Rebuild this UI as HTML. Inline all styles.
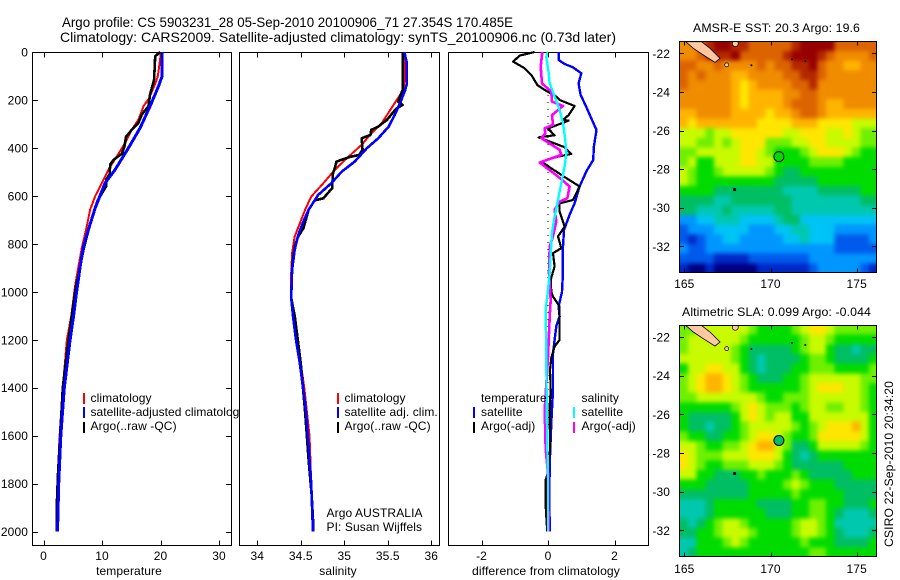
<!DOCTYPE html>
<html>
<head>
<meta charset="utf-8">
<title>Argo profile</title>
<style>
html,body{margin:0;padding:0;background:#fff;width:900px;height:580px;overflow:hidden}
svg{display:block}
text{font-family:"Liberation Sans",sans-serif;font-size:12px;fill:#000;letter-spacing:0.1px}
.frame{fill:#fff;stroke:#000;stroke-width:1;shape-rendering:crispEdges}
</style>
</head>
<body>
<svg id="chart" width="900" height="580" viewBox="0 0 900 580" xmlns="http://www.w3.org/2000/svg">
  <defs>
    <clipPath id="legend-clip"><rect x="0" y="380" width="239" height="60"/></clipPath>
    <clipPath id="map1-clip"><rect x="679.5" y="41.5" width="197" height="231"/></clipPath>
    <clipPath id="map2-clip"><rect x="679.5" y="325.5" width="197" height="231"/></clipPath>
    <filter id="map-soften" color-interpolation-filters="sRGB" x="-5%" y="-5%" width="110%" height="110%">
      <feGaussianBlur stdDeviation="2.2"/>
    </filter>
  </defs>

  <text x="62" y="27" font-size="14" style="font-size:14px;letter-spacing:0" textLength="451" lengthAdjust="spacingAndGlyphs">Argo profile: CS 5903231_28 05-Sep-2010 20100906_71 27.354S 170.485E</text>
  <text x="60" y="42" style="font-size:14px;letter-spacing:0" textLength="556" lengthAdjust="spacingAndGlyphs">Climatology: CARS2009. Satellite-adjusted climatology: synTS_20100906.nc (0.73d later)</text>

  <rect class="frame" x="32.5" y="52.5" width="199" height="493"/>
  <rect class="frame" x="239.5" y="52.5" width="200" height="493"/>
  <rect class="frame" x="448.5" y="52.5" width="200" height="493"/>

  <g id="temp-marks"></g>
  <g id="sal-marks"></g>
  <g id="diff-marks"></g>
  <g id="profile-axes"></g>

  <text x="129" y="575" text-anchor="middle">temperature</text>
  <text x="338" y="575" text-anchor="middle">salinity</text>
  <text x="546" y="575" text-anchor="middle" textLength="148" lengthAdjust="spacingAndGlyphs">difference from climatology</text>

  <g shape-rendering="crispEdges">
    <rect x="83" y="393" width="2" height="11" fill="#ff0000"/>
    <rect x="83" y="407" width="2" height="11" fill="#0000ff"/>
    <rect x="83" y="422" width="2" height="11" fill="#000"/>
    <text x="90.5" y="402">climatology</text>
    <g clip-path="url(#legend-clip)"><text x="90.5" y="416" textLength="155" lengthAdjust="spacing">satellite-adjusted climatology</text></g>
    <text x="90.5" y="430">Argo(..raw -QC)</text>
  </g>

  <g shape-rendering="crispEdges">
    <rect x="337" y="393" width="2" height="11" fill="#ff0000"/>
    <rect x="337" y="407" width="2" height="11" fill="#0000ff"/>
    <rect x="337" y="422" width="2" height="11" fill="#000"/>
    <text x="344.5" y="402">climatology</text>
    <text x="344.5" y="416">satellite adj. clim.</text>
    <text x="344.5" y="430">Argo(..raw -QC)</text>
    <text x="326.5" y="517">Argo AUSTRALIA</text>
    <text x="326.5" y="531">PI: Susan Wijffels</text>
  </g>

  <g shape-rendering="crispEdges">
    <text x="481" y="402">temperature</text>
    <rect x="473" y="407" width="2" height="11" fill="#0000ff"/>
    <text x="481" y="416">satellite</text>
    <rect x="473" y="422" width="2" height="11" fill="#000"/>
    <text x="481" y="430">Argo(-adj)</text>
    <text x="581.5" y="402">salinity</text>
    <rect x="573" y="407" width="2" height="11" fill="#00ffff"/>
    <text x="581.5" y="416">satellite</text>
    <rect x="573" y="422" width="2" height="11" fill="#ff00ff"/>
    <text x="581.5" y="430">Argo(-adj)</text>
  </g>

  <text x="693" y="32" textLength="167" lengthAdjust="spacingAndGlyphs">AMSR-E SST: 20.3 Argo: 19.6</text>
  <g id="sst-map" clip-path="url(#map1-clip)"></g>
  <rect x="679.5" y="41.5" width="197" height="231" fill="none" stroke="#000" shape-rendering="crispEdges"/>
  <g id="sst-axes"></g>

  <text x="682" y="316" textLength="189" lengthAdjust="spacingAndGlyphs">Altimetric SLA: 0.099 Argo: -0.044</text>
  <g id="sla-map" clip-path="url(#map2-clip)"></g>
  <rect x="679.5" y="325.5" width="197" height="231" fill="none" stroke="#000" shape-rendering="crispEdges"/>
  <g id="sla-axes"></g>

  <text transform="translate(893,547) rotate(-90)" textLength="166" lengthAdjust="spacingAndGlyphs">CSIRO 22-Sep-2010 20:34:20</text>
</svg>

<script>
/* ---------- tick labels ---------- */
const depthTicks = [0, 200, 400, 600, 800, 1000, 1200, 1400, 1600, 1800, 2000];
const tempTicks = [0, 10, 20, 30];
const salTicks = [34, 34.5, 35, 35.5, 36];
const diffTicks = [-2, 0, 2];
const lonTicks = [165, 170, 175];
const latTicks = [-22, -24, -26, -28, -30, -32];

/* ---------- temperature profile ---------- */
const tempClimDepth = [0, 32, 101, 122, 192, 226, 282, 324, 379, 435, 490, 560, 601, 657, 740, 817, 893, 976, 1100, 1200, 1400, 1600, 1800, 2000];
const tempClimValue = [20.06, 19.94, 19.54, 19.26, 18.06, 17.1, 16.24, 15.1, 13.96, 12.54, 11.11, 9.69, 8.83, 7.98, 7.29, 6.55, 5.98, 5.41, 4.75, 4.0, 3.3, 2.75, 2.4, 2.3];
const tempArgoDepth = [0, 18, 115, 178, 226, 261, 296, 324, 354, 393, 424, 449, 469, 511, 532, 560, 622, 671, 726, 824, 893, 976, 1000, 1200, 1400, 1600, 1750, 1900, 2000];
const tempArgoValue = [19.94, 19.09, 18.9, 18.2, 17.95, 16.8, 16.2, 15.1, 14.1, 13.85, 13.4, 12.0, 11.4, 11.3, 10.7, 10.7, 9.2, 8.55, 7.86, 6.84, 6.27, 5.58, 5.4, 4.27, 3.3, 2.85, 2.5, 2.25, 2.25];
const tempSatDepth = [0, 101, 143, 226, 317, 400, 490, 546, 650, 740, 810, 893, 976, 1000, 1100, 1200, 1400, 1600, 1800, 2000];
const tempSatValue = [20.28, 20.28, 19.66, 18.23, 16.52, 14.53, 12.25, 10.54, 8.83, 7.69, 6.84, 6.27, 5.81, 5.65, 5.15, 4.55, 3.55, 2.95, 2.6, 2.4];

/* ---------- salinity profile ---------- */
const salClimDepth = [0, 89, 158, 179, 235, 297, 339, 387, 436, 492, 547, 603, 658, 714, 769, 839, 922, 1026, 1100, 1200, 1300, 1400, 1500, 1600, 1700, 1800, 1900, 2000];
const salClimValue = [35.70, 35.70, 35.68, 35.64, 35.54, 35.43, 35.31, 35.2, 35.05, 34.89, 34.76, 34.62, 34.55, 34.49, 34.43, 34.40, 34.39, 34.385, 34.41, 34.45, 34.5, 34.54, 34.57, 34.6, 34.61, 34.62, 34.63, 34.64];
const salArgoDepth = [0, 158, 207, 221, 235, 283, 311, 325, 346, 360, 408, 429, 439, 457, 485, 506, 568, 610, 619, 658, 735, 769, 811, 894, 1026, 1100, 1200, 1300, 1500, 1700, 1850, 1950, 2000];
const salArgoValue = [35.67, 35.67, 35.62, 35.67, 35.6, 35.49, 35.39, 35.31, 35.3, 35.2, 35.21, 35.17, 35.05, 34.91, 34.89, 34.87, 34.86, 34.76, 34.66, 34.59, 34.53, 34.47, 34.43, 34.40, 34.39, 34.43, 34.465, 34.5, 34.55, 34.59, 34.625, 34.64, 34.64];
const salSatDepth = [0, 47, 131, 158, 214, 262, 311, 360, 401, 457, 499, 547, 596, 658, 707, 763, 825, 908, 1026, 1100, 1200, 1300, 1400, 1500, 1600, 1700, 1800, 1900, 2000];
const salSatValue = [35.69, 35.72, 35.72, 35.70, 35.64, 35.58, 35.51, 35.39, 35.26, 35.12, 34.97, 34.85, 34.70, 34.59, 34.53, 34.47, 34.43, 34.40, 34.39, 34.41, 34.445, 34.49, 34.525, 34.56, 34.58, 34.6, 34.62, 34.63, 34.64];

/* ---------- difference from climatology ---------- */
const diffTempSatDepth = [0, 33, 50, 64, 89, 131, 179, 228, 276, 325, 394, 450, 499, 561, 631, 679, 742, 839, 950, 1000, 1061, 1103, 1144, 1256, 1408, 1547, 1686, 1825, 2000];
const diffTempSatValue = [0.32, 0.32, 0.5, 0.75, 1, 0.92, 0.98, 1.15, 1.3, 1.46, 1.38, 1.36, 1.15, 0.95, 0.8, 0.65, 0.48, 0.44, 0.44, 0.42, 0.32, 0.35, 0.25, 0.15, 0.15, 0.1, 0.06, 0.04, 0.05];
const diffTempArgoDepth = [0, 15, 40, 68, 96, 138, 158, 186, 200, 225, 263, 283, 286, 319, 347, 356, 397, 425, 436, 457, 485, 517, 526, 561, 617, 631, 665, 728, 769, 818, 839, 894, 950, 1000, 1020, 1061, 1158, 1200, 1228, 1276, 1325, 1408, 1478, 1547, 1644, 1755, 1783, 1894, 1964, 2000];
const diffTempArgoValue = [-0.4, -0.85, -1.05, -0.7, -0.5, -0.32, -0.1, 0.25, 0.35, 0.8, 0.62, 0.45, 0.62, 0, 0.2, -0.28, 0.5, 0.7, 0.3, -0.2, 0.1, 0.45, 0.55, 0.95, 0.75, 0.35, 0.35, 0.5, 0.3, 0.4, 0.15, 0.2, 0.08, 0.1, 0.15, 0.35, 0.35, 0.35, 0.2, 0.1, 0.06, 0.08, 0.05, 0.05, 0.07, 0, -0.07, -0.07, -0.04, -0.02];
const diffSalSatDepth = [0, 19, 89, 131, 186, 242, 297, 367, 422, 478, 547, 617, 700, 756, 839, 922, 1020, 1075, 1270, 1478, 1644, 1742, 2000];
const diffSalSatValue = [0, -0.05, 0.02, 0.05, 0.2, 0.35, 0.45, 0.52, 0.55, 0.5, 0.4, 0.3, 0.18, 0.12, 0.08, 0.05, -0.02, -0.07, -0.05, -0.04, -0.02, 0, 0];
const diffSalArgoDepth = [0, 61, 131, 165, 207, 225, 263, 304, 318, 339, 360, 408, 429, 461, 519, 561, 610, 624, 658, 707, 769, 811, 922, 1033, 1103, 1270, 1492, 1658, 1755, 2000];
const diffSalArgoValue = [-0.17, -0.22, -0.18, 0.1, 0.12, 0.45, 0.12, 0.15, -0.1, -0.08, -0.2, 0.35, 0.4, -0.25, 0.3, 0.65, 0.58, 0.35, 0.2, 0.25, 0.15, 0.05, 0.03, 0.08, 0.05, 0, -0.1, -0.07, 0, 0.02];

/* ---------- maps: colour-class values, north to south, west to east ---------- */
const mapRamp = ['#000082', '#0028c8', '#005aeb', '#0096ff', '#00c3f5', '#00c8af', '#00be64', '#00dc00', '#6ef000', '#c8fa00', '#ffe600', '#ffb400', '#f08c00', '#dc6400', '#b42800', '#960000'];
const sstRows = [
 [12,12,13,14,15,15,14,14,13,13,13,13,13,14,15,15,15,15,13,13,13,13,13],
 [12,12,13,14,14,14,15,13,13,13,13,13,14,15,15,15,14,13,12,12,12,12,13],
 [13,13,12,12,13,12,12,12,12,13,12,13,13,14,14,15,13,12,12,11,11,12,12],
 [13,12,13,12,12,12,11,11,12,12,12,12,13,13,14,14,13,12,12,12,12,12,12],
 [13,12,12,12,12,12,11,10,11,12,12,12,12,13,13,14,12,12,12,12,12,12,12],
 [12,12,12,12,12,12,11,10,11,11,11,11,12,12,13,13,12,12,12,12,12,12,12],
 [12,12,12,12,12,12,11,10,11,11,11,11,12,13,13,13,12,11,11,12,12,12,12],
 [11,11,12,12,12,12,11,11,11,11,10,11,11,12,13,13,12,11,11,11,11,11,11],
 [11,10,11,11,11,11,11,11,11,10,10,10,10,11,11,11,10,10,10,10,9,9,9],
 [9,9,9,8,9,9,10,10,10,10,10,10,9,9,10,10,10,9,9,10,9,8,8],
 [9,9,8,8,9,8,9,10,10,10,8,8,8,9,9,10,10,9,9,9,9,8,8],
 [8,8,9,9,9,9,9,10,10,9,8,7,7,7,8,9,10,10,10,9,8,7,7],
 [8,9,7,7,9,9,9,10,10,9,9,7,7,7,7,8,8,8,8,7,7,7,7],
 [9,8,7,7,8,9,9,9,9,9,8,7,6,6,7,7,7,7,7,7,7,7,7],
 [9,8,7,7,7,7,7,7,7,7,7,6,6,6,6,6,7,7,7,7,7,7,7],
 [7,7,7,7,6,6,6,6,6,6,6,6,5,5,5,5,6,6,6,6,6,7,7],
 [6,6,6,6,5,5,6,6,6,6,6,6,6,5,5,5,5,5,5,5,5,6,6],
 [6,6,5,5,5,6,5,5,5,5,5,6,6,5,5,5,5,5,5,5,5,5,5],
 [3,3,4,4,5,5,5,4,4,4,4,5,6,6,4,4,4,4,4,4,4,4,4],
 [2,3,3,3,4,4,4,4,3,3,3,4,4,5,5,4,4,4,3,3,3,3,3],
 [2,1,2,3,3,4,4,3,3,3,3,3,4,4,5,4,4,4,2,2,2,2,3],
 [3,2,2,3,3,3,3,3,3,3,3,3,3,3,3,3,3,3,2,2,2,2,2],
 [2,2,2,2,1,1,1,1,2,2,2,2,2,2,2,3,3,3,3,3,3,3,3],
 [1,0,0,1,0,0,0,0,0,1,1,1,1,1,1,2,3,3,3,3,3,2,1]
];
const slaRows = [
 [8,8,9,9,9,9,9,9,8,7,7,7,7,8,9,10,10,9,8,8,8,8,8],
 [8,9,9,9,9,9,9,8,7,7,7,7,7,7,8,9,9,8,7,7,7,7,7],
 [8,9,9,9,9,9,8,7,6,6,6,6,6,7,8,9,9,7,6,6,5,6,6],
 [9,9,9,9,9,9,8,7,6,5,6,6,6,6,7,8,8,7,6,6,6,6,7],
 [7,9,9,10,10,9,9,7,6,5,6,6,6,7,7,8,8,8,7,7,7,7,8],
 [8,9,10,11,11,10,9,8,7,6,6,6,7,7,8,9,9,9,9,9,9,8,8],
 [8,9,10,11,11,10,9,8,7,7,7,7,7,7,8,9,10,10,10,9,9,8,7],
 [8,8,9,9,9,9,9,9,9,8,7,7,8,8,8,9,9,9,9,9,9,8,7],
 [7,7,7,7,7,7,8,9,10,9,8,8,8,7,8,9,9,8,8,9,9,8,7],
 [7,6,6,6,6,6,7,9,10,9,8,9,9,7,7,9,9,9,9,9,9,9,7],
 [7,6,6,5,6,6,7,8,9,9,9,9,9,8,7,8,9,10,10,10,11,9,7],
 [8,7,7,6,6,7,7,8,9,10,10,9,8,7,7,8,10,10,10,10,10,9,7],
 [9,9,8,7,7,8,8,9,10,11,11,9,8,6,6,7,9,9,9,9,9,8,7],
 [10,9,8,8,8,9,9,9,10,10,10,9,7,6,5,6,7,7,7,7,7,7,7],
 [10,9,8,7,7,8,8,8,9,9,9,8,7,6,6,6,6,6,6,7,7,7,7],
 [9,9,7,7,6,6,6,7,7,8,7,7,7,8,7,6,6,6,6,6,7,7,7],
 [7,7,7,6,6,6,6,6,7,7,7,7,8,9,8,7,7,7,6,6,6,6,6],
 [6,6,6,6,6,6,6,6,7,7,7,7,7,8,7,7,7,7,7,6,6,6,6],
 [5,5,5,6,7,7,7,7,7,6,6,6,6,7,7,8,8,7,7,6,6,6,7],
 [5,5,5,6,7,7,7,7,7,7,6,6,6,7,7,8,8,7,6,5,5,5,6],
 [6,5,6,7,8,9,9,8,7,7,7,7,7,8,9,9,8,7,5,5,5,5,5],
 [6,6,7,7,8,9,9,9,8,7,7,7,7,8,9,9,8,7,6,5,5,5,6],
 [5,5,7,7,7,8,9,8,7,7,7,7,7,7,8,7,7,7,6,6,6,6,7],
 [5,6,7,7,7,7,7,7,7,7,7,7,7,7,7,8,8,7,7,7,7,7,7]
];
const landLon = [165.08, 166.0, 166.49, 167.07, 166.78, 166.1, 165.52];
const landLat = [-21.4, -21.4, -21.74, -22.26, -22.47, -22.09, -21.74];
const isletLon = [167.96, 167.46, 168.89, 171.25, 172.02, 167.92];
const isletLat = [-21.5, -22.6, -22.62, -22.31, -22.41, -29.06];
const isletSize = [3, 2, 0.7, 0.7, 0.7, 1.2];
const argoLon = 170.485;
const argoLat = -27.354;
const sstArgoClass = 7;
const slaArgoClass = 6;

/* ---------- axis functions ---------- */
const NS = 'http://www.w3.org/2000/svg';
const yDepth = d => 52 + d * 0.2398;
const xTemp = v => 43.5 + v * 5.85;
const xSal = v => 257.3 + (v - 34) * 87;
const xDiff = v => 548 + v * 33.25;
const xLon = v => 684.3 + (v - 165) * 17.24;
const ySst = v => 53.3 + (-22 - v) * 19.3;
const ySla = v => 337 + (-22 - v) * 19.33;

function drawLine(parent, values, depths, xFn, color, width, name) {
  const el = document.createElementNS(NS, 'polyline');
  
  
  el.setAttribute('points', values.map((v, i) => xFn(v).toFixed(1) + ',' + yDepth(depths[i]).toFixed(1)).join(' '));
  el.setAttribute('fill', 'none');
  el.setAttribute('stroke', color);
  el.setAttribute('stroke-width', width);
  el.setAttribute('stroke-linejoin', 'round');
  el.setAttribute('shape-rendering', 'crispEdges');
  parent.appendChild(el);
}
function drawTick(parent, x1, y1, x2, y2) {
  const el = document.createElementNS(NS, 'line');
  
  
  el.setAttribute('x1', x1);
  el.setAttribute('y1', y1);
  el.setAttribute('x2', x2);
  el.setAttribute('y2', y2);
  el.setAttribute('stroke', '#000');
  el.setAttribute('shape-rendering', 'crispEdges');
  parent.appendChild(el);
}
function drawLabel(parent, x, y, anchor, label) {
  const el = document.createElementNS(NS, 'text');
  
  
  el.setAttribute('x', x);
  el.setAttribute('y', y);
  el.setAttribute('text-anchor', anchor);
  el.textContent = label;
  parent.appendChild(el);
}

/* ---------- profile panels ---------- */
const tempG = document.getElementById('temp-marks');
drawLine(tempG, tempClimValue, tempClimDepth, xTemp, '#ff0000', 2, 'temperature-climatology-line');
drawLine(tempG, tempArgoValue, tempArgoDepth, xTemp, '#000000', 2.6, 'temperature-argo-line');
drawLine(tempG, tempSatValue, tempSatDepth, xTemp, '#0000ff', 3, 'temperature-satellite-adjusted-line');

const salG = document.getElementById('sal-marks');
drawLine(salG, salClimValue, salClimDepth, xSal, '#ff0000', 2, 'salinity-climatology-line');
drawLine(salG, salArgoValue, salArgoDepth, xSal, '#000000', 2.6, 'salinity-argo-line');
drawLine(salG, salSatValue, salSatDepth, xSal, '#0000ff', 2.6, 'salinity-satellite-adjusted-line');

const diffG = document.getElementById('diff-marks');
const zeroLine = document.createElementNS(NS, 'line');


zeroLine.setAttribute('x1', xDiff(0));
zeroLine.setAttribute('x2', xDiff(0));
zeroLine.setAttribute('y1', yDepth(180));
zeroLine.setAttribute('y2', yDepth(2000));
zeroLine.setAttribute('stroke', '#000');
zeroLine.setAttribute('stroke-dasharray', '1 6');
zeroLine.setAttribute('shape-rendering', 'crispEdges');
diffG.appendChild(zeroLine);
drawLine(diffG, diffTempSatValue, diffTempSatDepth, xDiff, '#0000ff', 2.4, 'difference-temperature-satellite-line');
drawLine(diffG, diffTempArgoValue, diffTempArgoDepth, xDiff, '#000000', 2.2, 'difference-temperature-argo-line');
drawLine(diffG, diffSalArgoValue, diffSalArgoDepth, xDiff, '#ff00ff', 2.6, 'difference-salinity-argo-line');
drawLine(diffG, diffSalSatValue, diffSalSatDepth, xDiff, '#00ffff', 2.4, 'difference-salinity-satellite-line');

const axesG = document.getElementById('profile-axes');
depthTicks.forEach(d => {
  const y = Math.round(yDepth(d)) + 0.5;
  drawTick(axesG, 32.5, y, 38, y);
  drawTick(axesG, 226, y, 231.5, y);
  drawLabel(axesG, 28, yDepth(d) + 4.5, 'end', String(d));
});
function bottomAxis(ticks, xFn, top, bottom) {
  ticks.forEach(v => {
    const x = Math.round(xFn(v)) + 0.5;
    drawTick(axesG, x, top, x, top + 5);
    drawTick(axesG, x, bottom - 5, x, bottom);
    drawLabel(axesG, xFn(v), 560, 'middle', String(v));
  });
}
bottomAxis(tempTicks, xTemp, 52.5, 545.5);
bottomAxis(salTicks, xSal, 52.5, 545.5);
bottomAxis(diffTicks, xDiff, 52.5, 545.5);

/* ---------- maps ---------- */
function drawMap(gId, axesId, rows, yLat, argoClass, labelBaseline, top, bottom) {
  const g = document.getElementById(gId);
  const ax = document.getElementById(axesId);
  const field = document.createElementNS(NS, 'g');
  
  
  field.setAttribute('filter', 'url(#map-soften)');
  g.appendChild(field);
  const bleed = 12; /* edge cells run past the frame so softening never fades at the clip */
  rows.forEach((row, r) => {
    row.forEach((val, c) => {
      const lonW = 164.72 + c * 0.5;
      const latN = -21.38 - r * 0.5;
      const left = xLon(lonW) - (c === 0 ? bleed : 0);
      const right = xLon(lonW + 0.5) + 0.4 + (c === row.length - 1 ? bleed : 0);
      const upper = yLat(latN) - (r === 0 ? bleed : 0);
      const lower = yLat(latN - 0.5) + 0.4 + (r === rows.length - 1 ? bleed : 0);
      const cell = document.createElementNS(NS, 'rect');
      
      
      cell.setAttribute('x', left.toFixed(1));
      cell.setAttribute('y', upper.toFixed(1));
      cell.setAttribute('width', (right - left).toFixed(1));
      cell.setAttribute('height', (lower - upper).toFixed(1));
      cell.setAttribute('fill', mapRamp[Math.max(0, Math.min(mapRamp.length - 1, Math.round(val)))]);
      cell.setAttribute('shape-rendering', 'crispEdges');
      field.appendChild(cell);
    });
  });
  const land = document.createElementNS(NS, 'polygon');
  
  
  land.setAttribute('points', landLon.map((v, i) => xLon(v).toFixed(1) + ',' + yLat(landLat[i]).toFixed(1)).join(' '));
  land.setAttribute('fill', '#ffc8a0');
  land.setAttribute('stroke', '#000');
  land.setAttribute('stroke-width', '0.8');
  g.appendChild(land);
  isletLon.forEach((v, i) => {
    const islet = document.createElementNS(NS, 'circle');
    
    
    islet.setAttribute('cx', xLon(v).toFixed(1));
    islet.setAttribute('cy', yLat(isletLat[i]).toFixed(1));
    islet.setAttribute('r', isletSize[i]);
    islet.setAttribute('fill', isletSize[i] > 1.5 ? '#ffc8a0' : '#000');
    islet.setAttribute('stroke', '#000');
    islet.setAttribute('stroke-width', '0.7');
    g.appendChild(islet);
  });
  const marker = document.createElementNS(NS, 'circle');
  
  
  marker.setAttribute('cx', xLon(argoLon).toFixed(1));
  marker.setAttribute('cy', yLat(argoLat).toFixed(1));
  marker.setAttribute('r', 5);
  marker.setAttribute('fill', mapRamp[argoClass]);
  marker.setAttribute('stroke', '#000');
  g.appendChild(marker);
  latTicks.forEach(v => {
    const y = Math.round(yLat(v)) + 0.5;
    drawTick(ax, 679.5, y, 684, y);
    drawTick(ax, 872, y, 876.5, y);
    drawLabel(ax, 670, yLat(v) + 4.5, 'end', String(v));
  });
  lonTicks.forEach(v => {
    const x = Math.round(xLon(v)) + 0.5;
    drawTick(ax, x, top, x, top + 4);
    drawTick(ax, x, bottom - 4, x, bottom);
    drawLabel(ax, xLon(v), labelBaseline, 'middle', String(v));
  });
}
drawMap('sst-map', 'sst-axes', sstRows, ySst, sstArgoClass, 288, 41.5, 272.5);
drawMap('sla-map', 'sla-axes', slaRows, ySla, slaArgoClass, 573, 325.5, 556.5);
</script>
</body>
</html>
